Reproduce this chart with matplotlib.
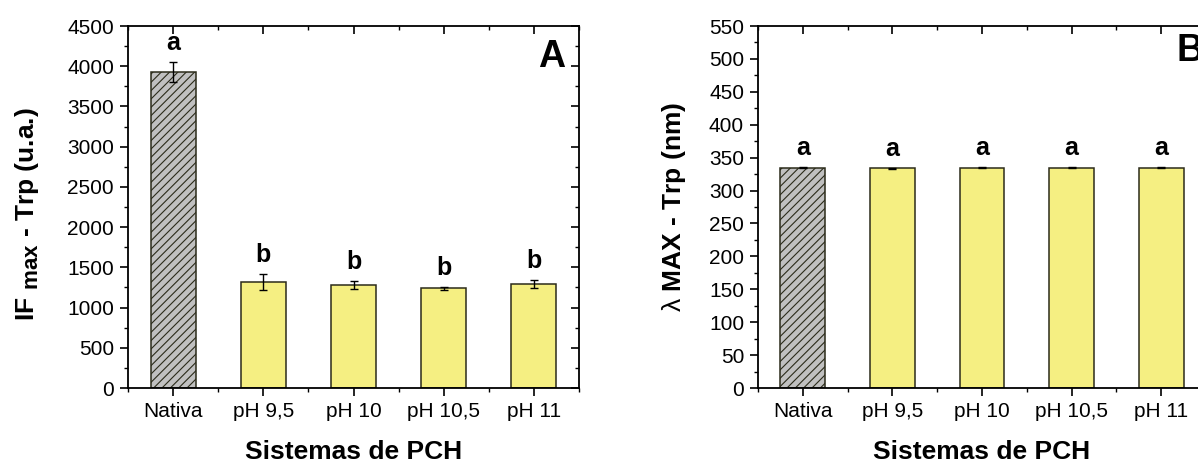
import numpy as np
import matplotlib
matplotlib.use("Agg")
import matplotlib.pyplot as plt
import matplotlib._mathtext as _mt
from matplotlib.ticker import MultipleLocator

plt.rcParams["font.family"] = ["Liberation Sans", "DejaVu Sans"]
plt.rcParams["mathtext.fontset"] = "custom"
plt.rcParams["mathtext.rm"] = "Liberation Sans"
plt.rcParams["mathtext.bf"] = "Liberation Sans:bold"
plt.rcParams["hatch.linewidth"] = 0.8
_mt.SHRINK_FACTOR = 0.85  # subscrito "max" quase do tamanho do texto

# ── dados ───────────────────────────────────────────────
categorias = ["Nativa", "pH 9,5", "pH 10", "pH 10,5", "pH 11"]

if_max = [3930, 1320, 1280, 1240, 1293]
if_err = [120, 100, 50, 20, 55]
if_letras = ["a", "b", "b", "b", "b"]

lam_max = [335, 334, 335, 335, 335]
lam_err = [1, 1, 1, 1, 1]
lam_letras = ["a", "a", "a", "a", "a"]

COR_NATIVA = "#c0c0c0"
COR_PCH = "#f5ef82"


def painel(ax, vals, errs, letras, ymax, major, minor):
    x = np.arange(len(categorias))
    cores = [COR_NATIVA] + [COR_PCH] * (len(categorias) - 1)
    bars = ax.bar(x, vals, width=0.5, color=cores, edgecolor="#2b2b1a",
                  linewidth=1.1, zorder=2)
    bars[0].set_hatch("////")
    ax.errorbar(x, vals, yerr=errs, fmt="none", ecolor="black",
                elinewidth=1.0, capsize=3, capthick=1.0, zorder=3)
    for xi, v, e, l in zip(x, vals, errs, letras):
        ax.annotate(l, (xi, v + e), xytext=(0, 5), textcoords="offset points",
                    ha="center", va="bottom", fontsize=18, fontweight="bold")

    ax.set_xlim(-0.5, len(categorias) - 0.5)
    ax.set_ylim(0, ymax)
    ax.set_xticks(x)
    ax.set_xticklabels(categorias)
    ax.xaxis.set_minor_locator(MultipleLocator(0.5))
    ax.yaxis.set_major_locator(MultipleLocator(major))
    ax.yaxis.set_minor_locator(MultipleLocator(minor))

    ax.tick_params(axis="both", which="major", labelsize=15, width=1.2, length=6,
                   direction="out", pad=4)
    ax.tick_params(axis="both", which="minor", width=1.0, length=3, direction="out")
    # ticks internos no topo e à direita (estilo Origin)
    ax.tick_params(which="both", top=True, right=True)
    for t in ax.xaxis.get_major_ticks() + ax.xaxis.get_minor_ticks():
        t.tick2line.set_marker(matplotlib.lines.TICKDOWN)
    for t in ax.yaxis.get_major_ticks() + ax.yaxis.get_minor_ticks():
        t.tick2line.set_marker(matplotlib.lines.TICKLEFT)
    for s in ax.spines.values():
        s.set_linewidth(1.3)

    ax.set_xlabel("Sistemas de PCH", fontsize=19, fontweight="bold", labelpad=14)
    return ax


fig = plt.figure(figsize=(11.98, 4.66), dpi=100)
axA = fig.add_axes([128 / 1198, 78 / 466, 451 / 1198, 362 / 466])
axB = fig.add_axes([758 / 1198, 78 / 466, 448 / 1198, 362 / 466])

painel(axA, if_max, if_err, if_letras, 4500, 500, 250)
painel(axB, lam_max, lam_err, lam_letras, 550, 50, 25)

axA.text(-0.224, 0.48, r"IF $_{\mathbf{max}}$ - Trp (u.a.)", transform=axA.transAxes,
         rotation=90, ha="center", va="center", fontsize=19, fontweight="bold")
axB.text(-0.1875, 0.5, r"$\mathrm{λ}$ MAX - Trp (nm)", transform=axB.transAxes,
         rotation=90, ha="center", va="center", fontsize=19, fontweight="bold")

axA.text(0.969, 0.965, "A", transform=axA.transAxes, ha="right", va="top",
         fontsize=27, fontweight="bold")
axB.text(0.935, 0.98, "B", transform=axB.transAxes, ha="left", va="top",
         fontsize=27, fontweight="bold")

fig.savefig("out.png", dpi=100)
